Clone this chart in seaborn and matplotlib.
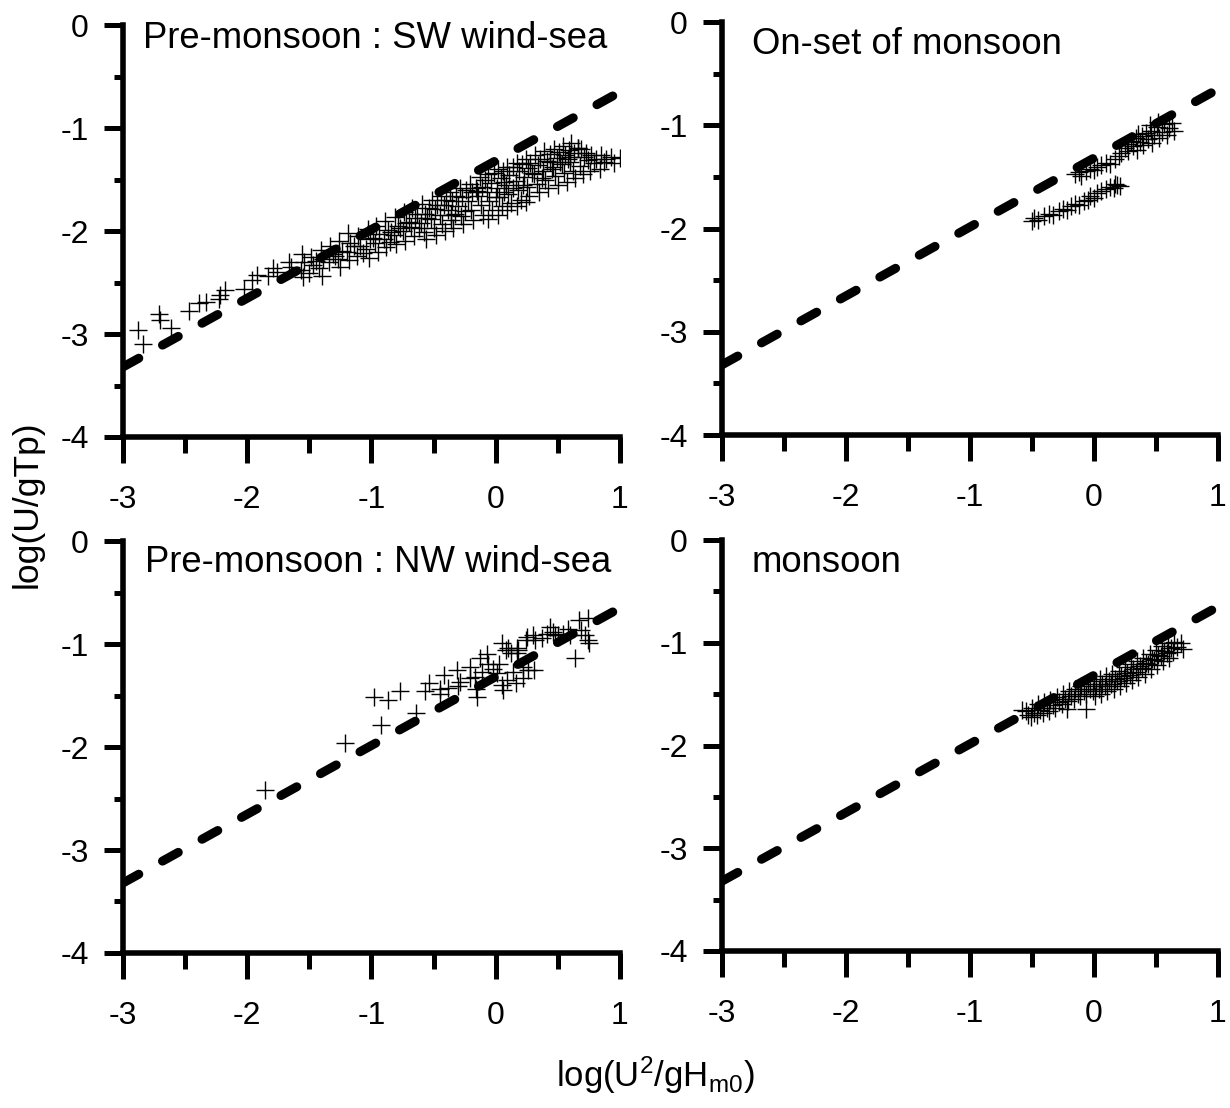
import matplotlib
matplotlib.use("Agg")
import matplotlib.pyplot as plt
import seaborn as sns
from matplotlib import font_manager

# ---------------- data ----------------
x_ticks = [-3, -2, -1, 0, 1]
y_ticks = [-4, -3, -2, -1, 0]
x_tick_labels = ["-3", "-2", "-1", "0", "1"]
y_tick_labels = ["-4", "-3", "-2", "-1", "0"]

titles = ["Pre-monsoon : SW wind-sea", "On-set of monsoon",
          "Pre-monsoon : NW wind-sea", "monsoon"]

# reference (dashed) relation, same in every panel
line_x = [-3.0, 1.0]
line_y = [-3.32, -0.65]

# Panel A : pre-monsoon SW wind-sea
a_x = [-2.88, -2.84, -2.71, -2.70, -2.61, -2.47, -2.39, -2.33, -2.23, -2.22,
       -2.18, -2.03, -1.96, -1.92, -1.83, -1.79, -1.76, -1.66, -1.65,
       -1.56, -1.54, -1.57, -1.55, -1.49, -1.47, -1.50,
       -1.41, -1.39, -1.42, -1.40, -1.33, -1.31, -1.34,
       -1.26, -1.24, -1.27, -1.25, -1.19, -1.17, -1.20, -1.18,
       -1.11, -1.09, -1.12, -1.03, -1.01, -1.04, -1.02,
       -0.96, -0.94, -0.97, -0.95, -0.89, -0.87, -0.90, -0.88,
       -0.81, -0.79, -0.82, -0.80, -0.74, -0.72, -0.75, -0.73,
       -0.67, -0.65, -0.68, -0.66, -0.59, -0.57, -0.60, -0.58, -0.56,
       -0.51, -0.49, -0.52, -0.50, -0.48, -0.44, -0.42, -0.45, -0.43, -0.41,
       -0.37, -0.35, -0.38, -0.36, -0.34, -0.29, -0.27, -0.30, -0.28, -0.26,
       -0.21, -0.19, -0.22, -0.20, -0.18, -0.13, -0.11, -0.14, -0.12, -0.10,
       -0.06, -0.04, -0.07, -0.05, -0.03, -0.06,
       0.02, 0.04, 0.01, 0.03, 0.05, 0.02, 0.09, 0.11, 0.08, 0.10, 0.12, 0.09,
       0.17, 0.19, 0.16, 0.18, 0.20, 0.17, 0.24, 0.26, 0.23, 0.25, 0.27, 0.24,
       0.32, 0.34, 0.31, 0.33, 0.35, 0.39, 0.41, 0.38, 0.40, 0.42,
       0.47, 0.49, 0.46, 0.48, 0.50, 0.54, 0.56, 0.53, 0.55, 0.57,
       0.61, 0.63, 0.60, 0.62, 0.64, 0.69, 0.71, 0.68, 0.70,
       0.77, 0.79, 0.76, 0.85, 0.87, 0.84, 0.93, 0.95, 1.00,
       -0.85, -0.62, -0.33, -0.15, 0.07, 0.29, 0.44, 0.58, 0.66, 0.74,
       -1.45, -1.29, -1.14, -0.99, -0.84, -0.70, -0.63, -0.54, -0.47, -0.40,
       -0.32, -0.24, -0.16, -0.09, -0.01, 0.06, 0.14, 0.21, 0.28, 0.36,
       0.44, 0.51, 0.59, 0.66, 0.73, 0.81, 0.89, -0.25, 0.00, 0.22,
       0.37, 0.45, 0.52, 0.60, 0.07, 0.14, -0.36, -0.55, -0.77, -1.07]
a_y = [-2.96, -3.10, -2.81, -2.86, -2.94, -2.78, -2.70, -2.69, -2.66, -2.62,
       -2.57, -2.56, -2.48, -2.43, -2.44, -2.36, -2.40, -2.30, -2.35,
       -2.22, -2.30, -2.38, -2.45, -2.25, -2.33, -2.41,
       -2.18, -2.27, -2.36, -2.44, -2.15, -2.22, -2.30,
       -2.10, -2.19, -2.27, -2.35, -2.02, -2.12, -2.20, -2.28,
       -2.05, -2.15, -2.24, -1.98, -2.08, -2.17, -2.26,
       -1.95, -2.03, -2.12, -2.20, -1.90, -1.99, -2.08, -2.16,
       -1.86, -1.95, -2.04, -2.13, -1.82, -1.92, -2.00, -2.10,
       -1.78, -1.87, -1.96, -2.05, -1.74, -1.83, -1.92, -2.01, -2.08,
       -1.70, -1.79, -1.88, -1.97, -2.04, -1.66, -1.75, -1.84, -1.93, -2.00,
       -1.62, -1.71, -1.80, -1.89, -1.97, -1.58, -1.67, -1.76, -1.85, -1.93,
       -1.54, -1.62, -1.71, -1.80, -1.89, -1.48, -1.57, -1.66, -1.75, -1.84,
       -1.45, -1.53, -1.62, -1.71, -1.80, -1.88,
       -1.40, -1.49, -1.58, -1.67, -1.76, -1.84, -1.38, -1.46, -1.55, -1.64, -1.73, -1.80,
       -1.34, -1.42, -1.51, -1.60, -1.70, -1.76, -1.30, -1.39, -1.48, -1.57, -1.66, -1.72,
       -1.26, -1.36, -1.45, -1.54, -1.62, -1.22, -1.32, -1.42, -1.50, -1.58,
       -1.20, -1.29, -1.38, -1.47, -1.55, -1.17, -1.26, -1.35, -1.44, -1.52,
       -1.15, -1.24, -1.33, -1.42, -1.49, -1.20, -1.28, -1.37, -1.45,
       -1.26, -1.34, -1.42, -1.26, -1.33, -1.40, -1.28, -1.34, -1.29,
       -2.11, -1.97, -1.83, -1.61, -1.52, -1.44, -1.33, -1.30, -1.19, -1.31,
       -2.29, -2.24, -2.15, -2.07, -2.01, -1.91, -1.83, -1.78, -1.75, -1.70,
       -1.66, -1.60, -1.58, -1.50, -1.44, -1.42, -1.38, -1.35, -1.34, -1.30,
       -1.25, -1.23, -1.21, -1.19, -1.24, -1.30, -1.30, -1.81, -1.67, -1.55,
       -1.49, -1.40, -1.33, -1.28, -1.62, -1.58, -1.84, -1.87, -1.97, -2.21]

# Panel B : on-set of monsoon
b_x = [-0.50, -0.48, -0.45, -0.40, -0.36, -0.33, -0.28, -0.25, -0.22, -0.18,
       -0.15, -0.12, -0.08, -0.05, -0.03, 0.00, 0.03, 0.06, 0.10, 0.13,
       0.16, 0.19, 0.21, 0.17,
       -0.15, -0.12, -0.10, -0.06, -0.03, 0.00, 0.03, 0.06, 0.10, 0.13,
       0.17, 0.20, 0.22, 0.25, 0.27, 0.28, 0.30, 0.32, 0.34, 0.35,
       0.37, 0.39, 0.40, 0.42, 0.44, 0.46, 0.47, 0.49, 0.51, 0.53,
       0.55, 0.57, 0.59, 0.61, 0.63, 0.65, 0.36, 0.45, 0.52]
b_y = [-1.93, -1.90, -1.92, -1.88, -1.86, -1.87, -1.83, -1.81, -1.82, -1.78,
       -1.76, -1.77, -1.73, -1.72, -1.68, -1.70, -1.66, -1.64, -1.62, -1.60,
       -1.61, -1.58, -1.59, -1.57,
       -1.47, -1.45, -1.49, -1.44, -1.42, -1.43, -1.40, -1.38, -1.36, -1.37,
       -1.33, -1.30, -1.27, -1.22, -1.18, -1.25, -1.15, -1.20, -1.12, -1.24,
       -1.16, -1.10, -1.19, -1.07, -1.13, -1.05, -1.17, -1.09, -1.02, -1.12,
       -1.06, -0.99, -1.09, -1.03, -0.98, -1.05, -1.08, -1.00, -0.97]

# Panel C : pre-monsoon NW wind-sea
c_x = [-1.86, -1.21, -0.98, -0.87, -0.77, -0.92, -0.64, -0.57, -0.54, -0.45,
       -0.45, -0.42, -0.38, -0.31, -0.30, -0.29, -0.21, -0.21, -0.17, -0.16,
       -0.15, -0.13, -0.11, -0.07, -0.06, -0.02, 0.01, 0.03, 0.05, 0.05,
       0.06, 0.08, 0.09, 0.10, 0.12, 0.14, 0.16, 0.17, 0.17, 0.18,
       0.22, 0.22, 0.24, 0.25, 0.26, 0.30, 0.31, 0.32, 0.37, 0.41,
       0.44, 0.46, 0.48, 0.50, 0.54, 0.58, 0.60, 0.64, 0.67, 0.69,
       0.72, 0.74, 0.74, 0.75]
c_y = [-2.42, -1.96, -1.51, -1.54, -1.46, -1.79, -1.67, -1.46, -1.38, -1.44,
       -1.49, -1.30, -1.43, -1.25, -1.41, -1.37, -1.22, -1.33, -1.32, -1.44,
       -1.51, -1.14, -1.27, -1.10, -1.19, -1.24, -1.28, -1.19, -0.99, -1.40,
       -1.45, -1.06, -1.35, -1.04, -1.09, -1.27, -1.38, -1.04, -1.09, -1.06,
       -1.22, -1.33, -0.96, -0.93, -1.25, -0.91, -1.25, -0.96, -0.94, -0.90,
       -0.83, -0.88, -0.91, -0.91, -0.90, -0.85, -0.91, -1.14, -0.77, -0.86,
       -0.91, -0.96, -0.75, -0.99]

# Panel D : monsoon
d_x = [-0.58, -0.55, -0.53, -0.50, -0.48, -0.51, -0.45, -0.43, -0.46,
       -0.40, -0.38, -0.41, -0.35, -0.33, -0.36, -0.30, -0.28, -0.31,
       -0.25, -0.23, -0.26, -0.22, -0.20, -0.18, -0.21, -0.15, -0.13, -0.16,
       -0.10, -0.08, -0.11, -0.05, -0.03, -0.06, -0.06,
       0.00, 0.02, -0.01, 0.01, 0.05, 0.07, 0.04, 0.06, 0.10, 0.12, 0.09, 0.11,
       0.15, 0.17, 0.14, 0.16, 0.20, 0.22, 0.19, 0.21, 0.25, 0.27, 0.24, 0.26,
       0.30, 0.32, 0.29, 0.31, 0.35, 0.37, 0.34, 0.36, 0.40, 0.42, 0.39, 0.41,
       0.45, 0.47, 0.44, 0.46, 0.50, 0.52, 0.49, 0.51, 0.55, 0.57, 0.54, 0.56,
       0.60, 0.62, 0.59, 0.61, 0.65, 0.67, 0.64, 0.70, 0.72]
d_y = [-1.65, -1.66, -1.70, -1.63, -1.68, -1.72, -1.60, -1.65, -1.70,
       -1.58, -1.63, -1.68, -1.56, -1.61, -1.66, -1.53, -1.58, -1.63,
       -1.50, -1.55, -1.60, -1.64, -1.47, -1.52, -1.57, -1.45, -1.50, -1.55,
       -1.42, -1.47, -1.52, -1.40, -1.45, -1.50, -1.64,
       -1.37, -1.42, -1.47, -1.52, -1.35, -1.40, -1.45, -1.50, -1.32, -1.37, -1.42, -1.47,
       -1.30, -1.35, -1.40, -1.45, -1.27, -1.32, -1.37, -1.42, -1.24, -1.29, -1.34, -1.39,
       -1.21, -1.26, -1.31, -1.36, -1.18, -1.23, -1.28, -1.33, -1.15, -1.20, -1.25, -1.30,
       -1.11, -1.16, -1.21, -1.26, -1.07, -1.12, -1.17, -1.22, -1.03, -1.08, -1.13, -1.18,
       -1.00, -1.05, -1.10, -1.15, -0.99, -1.04, -1.09, -1.00, -1.06]

panels_x = [a_x, b_x, c_x, d_x]
panels_y = [a_y, b_y, c_y, d_y]

# ---------------- style ----------------
sns.set_theme(style="ticks")
installed = {f.name for f in font_manager.fontManager.ttflist}
fams = [f for f in ["Liberation Sans Narrow", "Liberation Sans", "DejaVu Sans"] if f in installed]
plt.rcParams["font.family"] = fams
plt.rcParams["axes.unicode_minus"] = False
plt.rcParams["mathtext.fontset"] = "custom"
plt.rcParams["mathtext.rm"] = fams[0]
plt.rcParams["mathtext.it"] = fams[0]
plt.rcParams["mathtext.default"] = "regular"

fig = plt.figure(figsize=(12.3, 11.08), dpi=100)
positions = [
    [0.1000, 0.6056, 0.4040, 0.3718],
    [0.5870, 0.6074, 0.4030, 0.3726],
    [0.1000, 0.1399, 0.4040, 0.3718],
    [0.5870, 0.1417, 0.4030, 0.3709],
]
title_pos = [(0.04, 0.968), (0.06, 0.945), (0.045, 0.949), (0.06, 0.946)]

for i in range(4):
    ax = fig.add_axes(positions[i])
    sns.lineplot(x=line_x, y=line_y, ax=ax, color="black", linewidth=6.5,
                 linestyle=(0, (2.0, 3.0)), dash_capstyle="round", zorder=3)
    sns.scatterplot(x=panels_x[i], y=panels_y[i], ax=ax, marker="+", s=150,
                    color="black", linewidth=1.0, legend=False, zorder=2)
    ax.set_xlim(-3, 1)
    ax.set_ylim(-4, 0)
    ax.set_xticks(x_ticks)
    ax.set_xticklabels(x_tick_labels)
    ax.set_yticks(y_ticks)
    ax.set_yticklabels(y_tick_labels)
    ax.set_xticks([-2.5, -1.5, -0.5, 0.5], minor=True)
    ax.set_yticks([-3.5, -2.5, -1.5, -0.5], minor=True)
    for s in ["top", "right"]:
        ax.spines[s].set_visible(False)
    for s in ["left", "bottom"]:
        ax.spines[s].set_linewidth(4)
        ax.spines[s].set_color("black")
        ax.spines[s].set_capstyle("projecting")
    ax.tick_params(axis="x", which="major", length=18.5, width=3.6,
                   pad=16, labelsize=23, color="black", labelcolor="black")
    ax.tick_params(axis="x", which="minor", length=11.5, width=3.6, color="black")
    ax.tick_params(axis="y", which="major", length=13.5, width=3.6,
                   pad=11, labelsize=23, color="black", labelcolor="black")
    ax.tick_params(axis="y", which="minor", length=6.5, width=3.6, color="black")
    ax.set_xlabel("")
    ax.set_ylabel("")
    ax.text(title_pos[i][0], title_pos[i][1], titles[i], transform=ax.transAxes,
            fontsize=26.3, ha="left", va="center", color="black")

fig.text(0.022, 0.545, "log(U/gTp)", rotation=90, ha="center", va="center",
         fontsize=25.5, color="black")
fig.text(0.533, 0.030, r"log(U$^{2}$/gH$_{m0}$)", ha="center", va="center",
         fontsize=25, color="black")

fig.savefig("out.png", dpi=100)
